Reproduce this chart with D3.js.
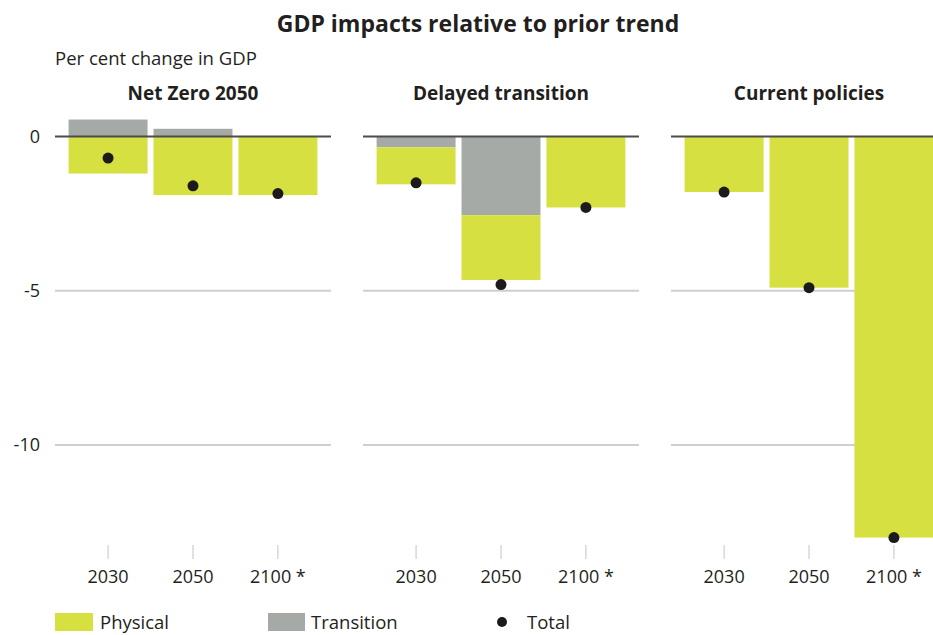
<!DOCTYPE html>
<html>
<head>
<meta charset="utf-8">
<script src="https://cdn.jsdelivr.net/npm/d3@7"></script>
<style>
  body { margin: 0; background: #fff; }
  svg text { font-family: "Open Sans", sans-serif; fill: #231f20; }
</style>
</head>
<body>
<div id="chart"></div>
<script>
// chart data
const scenarios = ["Net Zero 2050", "Delayed transition", "Current policies"];
const years = ["2030", "2050", "2100 *"];
// per cent change in GDP, one row per scenario
const physical   = [[-1.2, -1.9, -1.9], [-1.2, -2.1, -2.3], [-1.8, -4.9, -13.0]];
const transition = [[0.55, 0.25, 0],    [-0.35, -2.55, 0],  [0, 0, 0]];
const total      = [[-0.7, -1.6, -1.85], [-1.5, -4.8, -2.3], [-1.8, -4.9, -13.0]];
const yTicks = [0, -5, -10];

const width = 933, height = 635;
const colPhysical = "#d6e040", colTransition = "#a5aaa7", colTotal = "#1c1a1b";

const svg = d3.select("#chart").append("svg")
    .attr("width", width)
    .attr("height", height);

// panels
const panelX = d3.scaleBand()
    .domain(scenarios)
    .range([55, 947])
    .paddingInner(0.104);

const x = d3.scaleBand()
    .domain(years)
    .range([0, panelX.bandwidth()])
    .paddingInner(0.07)
    .paddingOuter(0.16);

const y = d3.scaleLinear()
    .domain([0, -10])
    .range([136.5, 445]);

// title
svg.append("text")
    .attr("x", 478)
    .attr("y", 32)
    .attr("text-anchor", "middle")
    .style("font-size", "23px")
    .style("font-weight", "bold")
    .text("GDP impacts relative to prior trend");

svg.append("text")
    .attr("x", 55)
    .attr("y", 65)
    .style("font-size", "18.5px")
    .text("Per cent change in GDP");

// y axis labels on the left (plain hyphen, as in the original)
const yAxis = svg.append("g")
    .attr("transform", "translate(55,0)")
    .call(d3.axisLeft(y).tickValues(yTicks).tickFormat(d => String(d)).tickSize(0).tickPadding(15));
yAxis.select(".domain").remove();
yAxis.selectAll("text")
    .style("font-size", "18px")
    .style("font-family", "'Open Sans', sans-serif")
    .attr("fill", "#231f20");

scenarios.forEach((s, i) => {
    const g = svg.append("g")
        .attr("transform", "translate(" + panelX(s) + ",0)");

    g.append("text")
        .attr("x", panelX.bandwidth() / 2)
        .attr("y", 100)
        .attr("text-anchor", "middle")
        .style("font-size", "19px")
        .style("font-weight", "bold")
        .text(s);

    // gridlines (not the zero line)
    g.selectAll(".grid")
        .data(yTicks.filter(d => d !== 0))
        .enter().append("line")
        .attr("x1", 0)
        .attr("x2", panelX.bandwidth())
        .attr("y1", d => y(d))
        .attr("y2", d => y(d))
        .attr("stroke", "#cfcfcf")
        .attr("stroke-width", 2);

    // stacked bars: transition closest to zero, physical beyond
    const rows = years.map((yr, j) => ({ year: yr, transition: transition[i][j], physical: physical[i][j] }));
    const series = d3.stack()
        .keys(["transition", "physical"])
        .offset(d3.stackOffsetDiverging)(rows);

    g.selectAll(".layer")
        .data(series)
        .enter().append("g")
        .attr("fill", d => d.key === "physical" ? colPhysical : colTransition)
        .selectAll("rect")
        .data(d => d)
        .enter().append("rect")
        .attr("x", d => x(d.data.year))
        .attr("width", x.bandwidth())
        .attr("y", d => y(Math.max(d[0], d[1])))
        .attr("height", d => Math.abs(y(d[0]) - y(d[1])));

    // zero line
    g.append("line")
        .attr("x1", 0)
        .attr("x2", panelX.bandwidth())
        .attr("y1", y(0))
        .attr("y2", y(0))
        .attr("stroke", "#4d4d4f")
        .attr("stroke-width", 2);

    // bottom ticks and year labels
    const xAxis = g.append("g")
        .attr("transform", "translate(0,545)")
        .call(d3.axisBottom(x).tickSize(14).tickPadding(11));
    xAxis.select(".domain").remove();
    xAxis.selectAll("line").attr("stroke", "#c4c4c4");
    xAxis.selectAll("text")
        .style("font-size", "18px")
        .style("font-family", "'Open Sans', sans-serif")
        .attr("fill", "#231f20");

    // totals
    g.selectAll(".dot")
        .data(total[i])
        .enter().append("circle")
        .attr("cx", (d, j) => x(years[j]) + x.bandwidth() / 2)
        .attr("cy", d => y(d))
        .attr("r", 5.5)
        .attr("fill", colTotal);
});

// legend
const legend = svg.append("g").attr("transform", "translate(0,622)");
legend.append("rect").attr("x", 55).attr("y", -9).attr("width", 38).attr("height", 18).attr("fill", colPhysical);
legend.append("text").attr("x", 100).attr("y", 6.5).style("font-size", "18.5px").text("Physical");
legend.append("rect").attr("x", 268).attr("y", -9).attr("width", 37).attr("height", 18).attr("fill", colTransition);
legend.append("text").attr("x", 311).attr("y", 6.5).style("font-size", "18.5px").text("Transition");
legend.append("circle").attr("cx", 502).attr("cy", 0).attr("r", 5).attr("fill", colTotal);
legend.append("text").attr("x", 527).attr("y", 6.5).style("font-size", "18.5px").text("Total");
</script>
</body>
</html>
